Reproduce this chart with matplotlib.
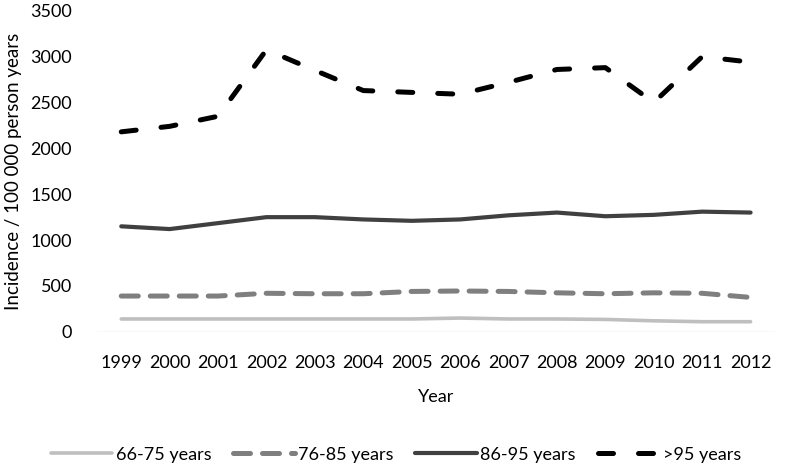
import matplotlib
matplotlib.use("Agg")

import matplotlib.pyplot as plt

years = [str(y) for y in range(1999, 2013)]

age_66_75 = [140, 140, 140, 140, 140, 140, 140, 150, 140, 140, 135, 120, 110, 110]
age_76_85 = [390, 390, 390, 420, 415, 415, 440, 445, 440, 425, 415, 425, 420, 375]
age_86_95 = [1150, 1120, 1185, 1250, 1250, 1225, 1210, 1225, 1270, 1300, 1260, 1275, 1310, 1300]
age_95_up = [2180, 2240, 2350, 3075, 2850, 2630, 2610, 2590, 2720, 2860, 2880, 2500, 3000, 2940]

series_labels = ["66-75 years", "76-85 years", "86-95 years", ">95 years"]
y_ticks = [0, 500, 1000, 1500, 2000, 2500, 3000, 3500]

plt.rcParams["font.family"] = ["Lato", "DejaVu Sans"]

fig = plt.figure(figsize=(7.89, 4.68), dpi=100)
ax = fig.add_axes([0.123, 0.291, 0.859, 0.686])

x = list(range(len(years)))
ax.plot(x, age_66_75, color="#bfbfbf", linewidth=2.6, solid_capstyle="round",
        label=series_labels[0])
ax.plot(x, age_76_85, color="#7f7f7f", linewidth=3.6, linestyle=(0, (3.4, 2.4)),
        dash_capstyle="round", label=series_labels[1])
ax.plot(x, age_86_95, color="#404040", linewidth=3, solid_capstyle="round",
        label=series_labels[2])
ax.plot(x, age_95_up, color="#000000", linewidth=3.6, linestyle=(0, (3, 5)),
        dash_capstyle="round", label=series_labels[3])

ax.set_xlim(-0.5, len(years) - 0.5)
ax.set_ylim(0, 3500)
ax.set_yticks(y_ticks)
ax.set_xticks(x)
ax.set_xticklabels(years)

for s in ax.spines.values():
    s.set_visible(False)
ax.axhline(0, color="#d9d9d9", linewidth=1, zorder=0)
ax.tick_params(axis="both", length=0, labelsize=13, colors="#000000")
ax.tick_params(axis="x", pad=17)
ax.tick_params(axis="y", pad=18)

ax.set_xlabel("Year", fontsize=13, labelpad=13)
ax.set_ylabel("Incidence / 100 000 person years", fontsize=13.5, labelpad=6)

ax.legend(loc="center", bbox_to_anchor=(0.441, -0.383), ncol=4, frameon=False,
          fontsize=13, handlelength=3.4, columnspacing=1.2, handletextpad=0.2)

fig.savefig("out.png", dpi=100)
